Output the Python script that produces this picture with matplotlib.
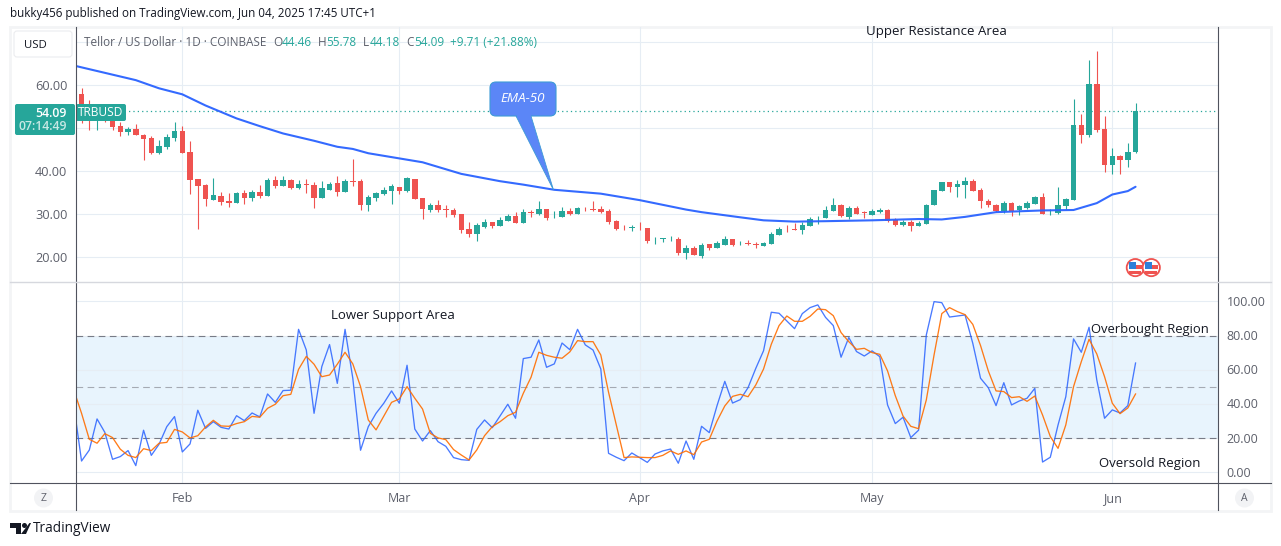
import matplotlib
matplotlib.use('Agg')
import matplotlib.pyplot as plt
from matplotlib.patches import FancyBboxPatch, Polygon, Circle, Rectangle

plt.rcParams['font.family'] = ['Open Sans', 'DejaVu Sans']

# daily bars, 18 Jan to 4 Jun 2025
opens = [62.9, 58.0, 55.1, 51.8, 53.0, 51.9, 50.5, 49.15, 49.8, 48.5, 47.75, 44.3, 45.7, 47.75,
         49.4, 44.5, 38.2, 36.8, 33.3, 34.3, 33.1, 32.6, 35.0, 33.8, 35.2, 34.3, 38.0, 36.6,
         38.0, 36.1, 37.0, 36.8, 33.8, 35.7, 37.3, 35.2, 37.7, 37.8, 32.2, 33.8, 34.7, 35.4,
         36.4, 35.4, 38.2, 33.8, 31.0, 32.2, 31.2, 31.0, 30.0, 26.6, 25.4, 27.0, 28.2, 27.3,
         28.5, 29.6, 28.0, 30.4, 30.0, 31.2, 29.6, 29.4, 30.8, 30.0, 31.3, 31.1, 31.2, 30.8,
         28.5, 26.8, 26.9, 26.8, 26.8, 24.0, 24.2, 24.4, 24.3, 21.0, 22.2, 20.3, 23.1, 22.2,
         22.9, 24.3, 23.3, 23.2, 23.0, 22.6, 23.1, 25.2, 26.6, 26.5, 26.4, 27.3, 29.3, 29.1,
         30.8, 32.2, 29.4, 31.5, 30.5, 29.8, 30.5, 31.0, 28.7, 27.5, 28.2, 27.3, 27.8, 32.2,
         35.4, 37.5, 36.4, 36.8, 37.8, 35.7, 33.1, 32.2, 30.8, 32.6, 31.0, 31.5, 32.4, 34.0,
         30.5, 30.3, 32.0, 33.3, 50.8, 48.4, 60.3, 49.8, 41.5, 43.6, 42.6, 44.46]
highs = [62.9, 59.4, 56.6, 53.9, 53.5, 52.6, 51.4, 50.2, 51.0, 48.7, 48.1, 47.3, 48.7, 51.5,
         50.5, 47.0, 38.2, 37.0, 38.4, 35.2, 35.0, 35.2, 35.7, 35.7, 36.8, 38.4, 38.9, 38.9,
         38.2, 38.0, 38.2, 37.5, 37.8, 37.5, 38.9, 38.2, 42.9, 38.2, 34.5, 35.2, 36.4, 37.0,
         36.4, 38.7, 38.2, 33.8, 32.6, 33.3, 32.2, 31.5, 30.0, 28.2, 28.0, 28.9, 28.2, 29.4,
         30.0, 30.5, 31.2, 31.0, 33.1, 31.2, 30.8, 31.7, 31.5, 31.7, 31.7, 33.1, 31.9, 31.2,
         28.7, 27.5, 27.5, 28.2, 26.8, 24.7, 24.6, 25.0, 24.7, 22.9, 22.6, 23.3, 23.1, 23.8,
         25.0, 24.3, 23.8, 24.0, 23.6, 23.5, 25.9, 27.0, 27.5, 28.0, 28.2, 29.4, 29.6, 31.9,
         33.8, 32.4, 32.0, 31.9, 30.8, 31.2, 31.5, 31.2, 29.1, 28.7, 28.7, 28.4, 32.4, 35.7,
         37.5, 37.5, 38.0, 38.7, 38.2, 36.1, 33.6, 32.4, 33.0, 32.9, 32.1, 33.0, 34.3, 35.0,
         31.2, 36.4, 33.8, 56.8, 53.3, 65.9, 68.0, 52.9, 45.4, 43.8, 46.6, 55.78]
lows = [57.7, 51.2, 49.7, 49.7, 51.5, 49.7, 48.1, 48.4, 48.5, 42.7, 44.1, 44.1, 45.3, 47.0,
        44.3, 34.7, 26.6, 31.9, 33.3, 32.2, 31.7, 32.6, 32.4, 33.1, 33.8, 34.3, 36.1, 36.6,
        35.9, 35.9, 35.0, 31.5, 33.8, 35.7, 34.3, 35.2, 36.6, 31.0, 30.8, 33.1, 34.5, 32.4,
        34.7, 35.2, 33.6, 28.9, 30.5, 30.5, 29.4, 29.4, 25.7, 24.7, 23.8, 26.9, 26.8, 27.3,
        28.5, 28.0, 28.0, 29.4, 29.8, 28.7, 29.1, 29.4, 29.8, 30.0, 30.8, 30.8, 30.3, 27.8,
        26.4, 26.4, 26.1, 26.4, 23.3, 23.1, 23.6, 23.8, 20.5, 19.6, 20.5, 19.8, 21.7, 22.2,
        22.9, 22.7, 22.8, 22.9, 22.2, 22.6, 23.1, 25.2, 25.9, 26.3, 25.4, 27.3, 27.8, 29.1,
        30.8, 29.4, 28.9, 30.0, 29.1, 29.8, 30.3, 28.2, 27.3, 27.3, 26.1, 27.3, 27.8, 32.2,
        35.4, 35.2, 34.0, 33.8, 35.4, 31.5, 31.7, 30.5, 30.3, 29.6, 29.9, 31.2, 32.4, 30.0,
        29.8, 30.0, 31.2, 33.3, 46.6, 48.0, 49.1, 39.8, 39.4, 39.4, 41.0, 44.18]
closes = [57.8, 55.1, 52.0, 53.3, 51.9, 50.4, 49.15, 49.8, 48.5, 47.6, 44.3, 45.9, 48.0, 49.4,
          44.3, 38.0, 36.6, 33.6, 34.5, 32.9, 32.6, 35.0, 33.8, 35.2, 34.3, 38.0, 36.6, 38.0,
          36.1, 37.0, 36.9, 33.8, 36.1, 37.0, 35.2, 37.8, 37.5, 32.2, 34.0, 35.0, 35.7, 36.6,
          35.4, 38.4, 33.6, 31.2, 32.2, 31.0, 31.0, 29.8, 26.3, 25.4, 27.5, 28.2, 27.3, 28.7,
          29.6, 28.0, 30.5, 30.3, 31.2, 29.1, 29.7, 30.8, 30.0, 31.5, 31.2, 31.0, 30.5, 28.2,
          26.6, 26.7, 27.0, 26.7, 23.8, 24.1, 24.4, 24.5, 21.0, 22.2, 20.5, 22.9, 22.2, 23.3,
          24.3, 22.9, 23.4, 23.1, 22.9, 23.3, 25.4, 26.6, 26.5, 26.4, 27.5, 28.9, 29.4, 31.0,
          32.2, 29.6, 31.5, 30.0, 30.4, 30.8, 31.1, 28.4, 27.5, 28.2, 27.3, 28.0, 32.2, 35.7,
          37.5, 36.4, 37.0, 37.8, 35.4, 33.0, 32.2, 30.8, 32.6, 30.8, 31.9, 32.6, 34.0, 30.0,
          30.6, 32.2, 33.6, 50.8, 48.4, 60.3, 49.6, 41.5, 43.6, 42.6, 44.5, 54.09]

ema_bars = [0, 4, 8, 11, 14, 17, 21, 24, 27, 31, 34, 36, 38, 42, 45, 50, 55, 58, 62, 68, 73, 79,
            81, 86, 89, 93, 97, 103, 109, 112, 115, 119, 125, 129, 132, 134, 136, 137]
ema_vals = [64.6, 62.9, 61.2, 59.3, 57.9, 55.3, 52.3, 50.5, 48.8, 47.1, 45.7, 45.2, 44.2, 43.0,
            42.1, 39.4, 37.7, 36.9, 35.7, 34.8, 33.3, 31.1, 30.5, 29.3, 28.6, 28.3, 28.4, 28.6,
            28.9, 28.8, 29.4, 30.5, 30.9, 31.0, 32.6, 34.6, 35.4, 36.4]

stoch_k = [39, 6.6, 13, 31.2, 23.4, 7.6, 9.2, 12.7, 3.9, 24.6, 9.9, 16.4, 26.7, 32.6,
           11.9, 16.6, 36.3, 25.7, 29.6, 26.3, 25.3, 33.1, 30.2, 34.7, 32.4, 45.8, 40.9, 47.8,
           48, 83.6, 71.5, 34.5, 61.8, 74.7, 52, 83.6, 55, 12.9, 26.7, 34.5, 40.4, 47.6,
           40.4, 62.6, 25.3, 18.3, 24.4, 17.9, 15.2, 8.6, 7.4, 7, 25.1, 30.6, 26.1, 32.9,
           39.8, 31.6, 66.5, 67.3, 77.4, 61.4, 63.4, 75.6, 71.7, 83.6, 74.5, 71.5, 60.4, 11.1,
           8.8, 6.8, 11.3, 8.6, 5.8, 10.7, 12.5, 13.6, 5.3, 18.3, 7.6, 26.9, 23.2, 39,
           53.2, 40.5, 42.5, 49.5, 60.8, 71.1, 93.6, 93, 88.5, 84, 92.8, 96.3, 97.9, 90.6,
           85.8, 67.3, 78.8, 70.6, 68, 71, 67.6, 39.4, 28.5, 32.2, 20.3, 24.6, 80.3, 99.8,
           99.2, 90.8, 91.4, 92, 75.4, 55, 49.5, 39, 52.4, 39.4, 41.7, 43.3, 49.1, 6,
           8.8, 27.7, 44.2, 78, 70.2, 84.8, 54, 31.6, 36.5, 34.7, 39, 63.9]
stoch_d = [48.1, 34.5, 19.3, 17, 22.6, 20.3, 13.5, 9.9, 8.6, 13.8, 12.7, 17, 17.5, 25.1,
           23.6, 20.1, 21.4, 26.5, 30.4, 27.1, 26.9, 28.5, 29.6, 32.7, 32.2, 37.4, 39.8, 44.8,
           45.6, 60.2, 67.8, 63.2, 55.9, 56.9, 63.2, 70.2, 63.4, 50.1, 30.6, 24.8, 32.9, 40.9,
           42.9, 50.1, 43.3, 37, 22.8, 20.1, 19.1, 13.3, 10.1, 7.2, 13.1, 21.4, 26.7, 29.6,
           33.1, 35.1, 46.2, 55.6, 70.2, 68.4, 67.3, 66.7, 70.4, 77, 76.4, 76.4, 68.6, 46.8,
           27.7, 8.6, 9, 8.8, 8.6, 8.6, 9.9, 12.5, 10.5, 12.5, 10.3, 17.7, 19.3, 30,
           38.8, 44.4, 45.6, 44.2, 51.1, 60.4, 74.9, 85.8, 91.4, 88.3, 88.3, 91.2, 95.5, 95.1,
           91.6, 81.7, 76.4, 71.9, 72.5, 70, 69, 59.3, 44.8, 32.9, 26.9, 25.5, 42.3, 68.6,
           92.8, 96.3, 94, 92.2, 86.5, 74.1, 59.3, 47.6, 47.2, 43.7, 44.2, 41.5, 44.6, 33.5,
           20.9, 14, 27.7, 50.1, 64.7, 77.8, 69.2, 55.9, 40.4, 34.3, 37.6, 45.8]

month_labels = ['Feb', 'Mar', 'Apr', 'May', 'Jun']
month_bars = [14, 42, 73, 103, 134]
price_ticks = [20, 30, 40, 50, 60, 70]
price_labels = ['20.00', '30.00', '40.00', '', '60.00', '']
stoch_ticks = [0, 20, 40, 60, 80, 100]
last_close = closes[-1]

RED = '#ef5350'
GREEN = '#26a69a'
GRID = '#e6edf4'
AXIS = '#50535e'
TEXT = '#5d606b'

W, H = 1281, 546
LEFT, RIGHT = 75.7, 1217.5
BAR0, BAR_PX = 73.8, 7.75  # pixel of bar 0, pixels per bar

fig = plt.figure(figsize=(W / 100, H / 100), dpi=100, facecolor='white')

# furniture in pixel coordinates
bg = fig.add_axes([0, 0, 1, 1], zorder=0)
bg.set_xlim(0, W)
bg.set_ylim(H, 0)
bg.axis('off')
bg.add_patch(Rectangle((10, 27), 1261, 484, fc='white', ec='#f3f4f6', lw=2))


def pane(top, bottom, ymin_px, ymin_val, px_per_unit):
    ax = fig.add_axes([LEFT / W, 1 - bottom / H, (RIGHT - LEFT) / W, (bottom - top) / H], zorder=2)
    ax.patch.set_alpha(0)
    ax.set_xlim((LEFT - BAR0) / BAR_PX, (RIGHT - BAR0) / BAR_PX)
    ax.set_ylim(ymin_val - (bottom - ymin_px) / px_per_unit, ymin_val + (ymin_px - top) / px_per_unit)
    ax.set_xticks(month_bars)
    ax.grid(True, color=GRID, lw=0.8)
    ax.set_axisbelow(True)
    ax.tick_params(length=0, labelleft=False, labelbottom=False)
    for s in ax.spines.values():
        s.set_visible(False)
    return ax


ax = pane(27, 281.5, 257.3, 20, 4.3)
ax2 = pane(282.5, 483.3, 472.3, 0, 1.71)
ax.set_yticks(price_ticks)
ax2.set_yticks(stoch_ticks)

# candles
for i in range(len(opens)):
    col = GREEN if closes[i] >= opens[i] else RED
    ax.vlines(i, lows[i], highs[i], color=col, lw=0.8, zorder=3)
    body = max(abs(closes[i] - opens[i]), 0.12)
    ax.bar(i, body, bottom=min(opens[i], closes[i]), width=0.7, color=col, lw=0, zorder=3)

ax.plot(ema_bars, ema_vals, color='#2962ff', lw=1.5, zorder=4, solid_capstyle='round', alpha=0.95)
ax.axhline(last_close, color=GREEN, lw=0.9, ls=(0, (1, 2.5)), zorder=2)

# stochastic pane
ax2.axhspan(20, 80, color='#2196f3', alpha=0.1, lw=0, zorder=0)
ax2.axhline(80, color='#787b86', lw=0.8, ls=(0, (6, 4)), zorder=2)
ax2.axhline(50, color='#9598a1', lw=0.8, ls=(0, (6, 4)), zorder=2, alpha=0.8)
ax2.axhline(20, color='#787b86', lw=0.8, ls=(0, (6, 4)), zorder=2)
ax2.plot(range(len(stoch_k)), stoch_k, color='#2962ff', lw=0.95, alpha=0.85, zorder=3)
ax2.plot(range(len(stoch_d)), stoch_d, color='#ff6d00', lw=0.95, alpha=0.9, zorder=4)

# scale labels
for t, lab in zip(price_ticks, price_labels):
    if lab:
        ax.annotate(lab, (0, t), xycoords=('axes fraction', 'data'), xytext=(-6, -0.7), textcoords='offset points',
                    ha='right', va='center', fontsize=9.2, color=TEXT)
for t in stoch_ticks:
    ax2.annotate('%.2f' % t, (1, t), xycoords=('axes fraction', 'data'), xytext=(6.5, -0.7), textcoords='offset points',
                 ha='left', va='center', fontsize=9, color=TEXT)
for m, lab in zip(month_bars, month_labels):
    ax2.annotate(lab, (m, 0), xycoords=('data', 'axes fraction'), xytext=(0, -10.8), textcoords='offset points',
                 ha='center', va='center', fontsize=9, color=TEXT)

# overlay: frame lines, labels, callout
fg = fig.add_axes([0, 0, 1, 1], zorder=5)
fg.set_xlim(0, W)
fg.set_ylim(H, 0)
fg.axis('off')
fg.plot([LEFT, LEFT], [27, 510], color=AXIS, lw=0.8)
fg.plot([RIGHT, RIGHT], [27, 510], color=AXIS, lw=0.8)
fg.plot([10, 1271], [483.3, 483.3], color=AXIS, lw=0.8)
fg.plot([10, 1271], [281.7, 281.7], color='#d6d8de', lw=1)

fg.text(10, 13, 'bukky456 published on TradingView.com, Jun 04, 2025 17:45 UTC+1', fontsize=8.35, color='#131722',
        va='center', ha='left')
fg.add_patch(FancyBboxPatch((14, 31), 58, 26, boxstyle='round,pad=0,rounding_size=3', fc='white', ec='#ebecef', lw=0.8))
fg.text(35, 45, 'USD', fontsize=8.2, color='#131722', ha='center', va='center')

fg.text(84, 42.5, 'Tellor / US Dollar · 1D · COINBASE', fontsize=8.5, color=TEXT, va='center')
x = 273
for pre, val, step in [('O', '44.46', 8.5), ('H', '55.78', 9), ('L', '44.18', 7.5), ('C', '54.09', 8.5)]:
    fg.text(x, 42.5, pre, fontsize=8.5, color=TEXT, va='center')
    fg.text(x + step, 42.5, val, fontsize=8.5, color=GREEN, va='center')
    x += step + 36
fg.text(450, 42.5, '+9.71 (+21.88%)', fontsize=8.5, color=GREEN, va='center')

# price tag
fg.add_patch(FancyBboxPatch((15, 104), 60, 31, boxstyle='round,pad=0,rounding_size=2', fc=GREEN, ec='none'))
fg.text(67, 113.5, '54.09', fontsize=8.8, color='white', ha='right', va='center', fontweight='semibold')
fg.text(67, 127, '07:14:49', fontsize=8.8, color='#c8e8e4', ha='right', va='center', fontweight='semibold')
fg.add_patch(FancyBboxPatch((76, 104), 50, 17, boxstyle='round,pad=0,rounding_size=2', fc=GREEN, ec='none'))
fg.text(101, 113, 'TRBUSD', fontsize=8.6, color='white', ha='center', va='center')

# EMA callout
fg.add_patch(Polygon([[516, 116], [531, 116], [553.5, 190]], closed=True, fc='#5b86f7', ec='#3d9bd6', lw=0.6))
fg.add_patch(FancyBboxPatch((490, 82), 66, 34, boxstyle='round,pad=0,rounding_size=6', fc='#5b86f7', ec='#3d9bd6', lw=0.8))
fg.add_patch(Rectangle((517, 112), 13.5, 6, fc='#5b86f7', ec='none'))
fg.text(523, 99, 'EMA-50', fontsize=9.6, color='white', style='italic', ha='center', va='center')

fg.text(866, 32, 'Upper Resistance Area', fontsize=9.5, color='#131722', va='center')
fg.text(331, 315, 'Lower Support Area', fontsize=9.5, color='#131722', va='center')
fg.text(1091, 330, 'Overbought Region', fontsize=9.35, color='#131722', va='center')
fg.text(1099, 463, 'Oversold Region', fontsize=9.5, color='#131722', va='center')

# event flags
for cx in (1135.3, 1151.3):
    fg.add_patch(Circle((cx, 267.6), 8.6, fc='white', ec=RED, lw=1.3, zorder=2))
    fg.add_patch(Rectangle((cx - 6.5, 261.5), 7.5, 7.5, fc='#2e7fd9', ec='none', zorder=3))
    fg.add_patch(Rectangle((cx + 1, 265), 5.8, 3.8, fc=RED, ec='none', zorder=3))
    fg.add_patch(Rectangle((cx - 6, 271), 12, 3, fc=RED, ec='none', zorder=3))

# scale buttons
for cx, lab in ((43.5, 'Z'), (1244.5, 'A')):
    fg.add_patch(Circle((cx, 498), 9.5, fc='#f2f3f5', ec='none'))
    fg.text(cx, 498.5, lab, fontsize=7.5, color=TEXT, ha='center', va='center')

# logo
fg.add_patch(Polygon([[10, 523], [21, 523], [21, 534], [16, 534], [16, 528], [10, 528]], closed=True, fc='#131722', ec='none'))
fg.add_patch(Circle((24.5, 525.5), 2.5, fc='#131722', ec='none'))
fg.add_patch(Polygon([[26, 534], [31, 523], [29.5, 523], [21, 534]], closed=True, fc='#131722', ec='none'))
fg.text(33, 529, 'TradingView', fontsize=9.8, color='#131722', va='center')

fig.savefig('out.png', dpi=100)
